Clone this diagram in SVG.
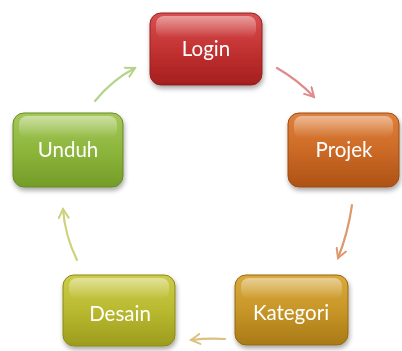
<svg xmlns="http://www.w3.org/2000/svg" width="402" height="351" viewBox="0 0 402 351">
<defs>
<linearGradient id="gRed" x1="0" y1="0" x2="0" y2="1"><stop offset="0" stop-color="#d95050"/><stop offset="0.5" stop-color="#c33232"/><stop offset="1" stop-color="#a51e1e"/></linearGradient>
<linearGradient id="gOrange" x1="0" y1="0" x2="0" y2="1"><stop offset="0" stop-color="#e0813c"/><stop offset="0.5" stop-color="#cc6a26"/><stop offset="1" stop-color="#ad5216"/></linearGradient>
<linearGradient id="gGreen" x1="0" y1="0" x2="0" y2="1"><stop offset="0" stop-color="#a5c85a"/><stop offset="0.5" stop-color="#8db63c"/><stop offset="1" stop-color="#749c28"/></linearGradient>
<linearGradient id="gOlive" x1="0" y1="0" x2="0" y2="1"><stop offset="0" stop-color="#cccc4a"/><stop offset="0.5" stop-color="#b9b930"/><stop offset="1" stop-color="#9c9c1e"/></linearGradient>
<linearGradient id="gGold" x1="0" y1="0" x2="0" y2="1"><stop offset="0" stop-color="#d9aa3e"/><stop offset="0.5" stop-color="#c89628"/><stop offset="1" stop-color="#a87a16"/></linearGradient>
<linearGradient id="gShine" x1="0" y1="0" x2="0" y2="1"><stop offset="0" stop-color="#fff" stop-opacity="0.45"/><stop offset="1" stop-color="#fff" stop-opacity="0"/></linearGradient>
<filter id="shadow" x="-20%" y="-20%" width="140%" height="150%"><feGaussianBlur in="SourceAlpha" stdDeviation="2.5"/><feOffset dx="1" dy="3"/><feComponentTransfer><feFuncA type="linear" slope="0.35"/></feComponentTransfer><feMerge><feMergeNode/><feMergeNode in="SourceGraphic"/></feMerge></filter>
<marker id="aRed" viewBox="0 0 12 12" refX="10" refY="6" markerWidth="12" markerHeight="12" markerUnits="userSpaceOnUse" orient="auto"><path d="M1,1 L10,6 L1,11" fill="none" stroke="#e08a8a" stroke-width="2" stroke-linecap="round"/></marker>
<marker id="aOrange" viewBox="0 0 12 12" refX="10" refY="6" markerWidth="12" markerHeight="12" markerUnits="userSpaceOnUse" orient="auto"><path d="M1,1 L10,6 L1,11" fill="none" stroke="#dc9a6e" stroke-width="2" stroke-linecap="round"/></marker>
<marker id="aGold" viewBox="0 0 12 12" refX="10" refY="6" markerWidth="12" markerHeight="12" markerUnits="userSpaceOnUse" orient="auto"><path d="M1,1 L10,6 L1,11" fill="none" stroke="#dcc07e" stroke-width="2" stroke-linecap="round"/></marker>
<marker id="aOlive" viewBox="0 0 12 12" refX="10" refY="6" markerWidth="12" markerHeight="12" markerUnits="userSpaceOnUse" orient="auto"><path d="M1,1 L10,6 L1,11" fill="none" stroke="#cfd27a" stroke-width="2" stroke-linecap="round"/></marker>
<marker id="aGreen" viewBox="0 0 12 12" refX="10" refY="6" markerWidth="12" markerHeight="12" markerUnits="userSpaceOnUse" orient="auto"><path d="M1,1 L10,6 L1,11" fill="none" stroke="#b5d38a" stroke-width="2" stroke-linecap="round"/></marker>
</defs>
<style>
.lbl{font-family:Lato,"Liberation Sans",sans-serif;font-size:20.5px;fill:#ffffff;text-anchor:middle;dominant-baseline:central}
.shine{fill:url(#gShine)}
.conn{fill:none;stroke-width:2.2;stroke-linecap:round}
</style>
<rect width="402" height="351" fill="#ffffff"/>
<g id="connectors">
<path class="conn" d="M277,68 Q298,80 314,97" stroke="#e08a8a" marker-end="url(#aRed)"/>
<path class="conn" d="M352,205 Q348,233 338,258" stroke="#dc9a6e" marker-end="url(#aOrange)"/>
<path class="conn" d="M225,339 Q208,338 191,340" stroke="#dcc07e" marker-end="url(#aGold)"/>
<path class="conn" d="M77,260 Q65,236 63,209" stroke="#cfd27a" marker-end="url(#aOlive)"/>
<path class="conn" d="M95,101 Q112,80 135,68" stroke="#b5d38a" marker-end="url(#aGreen)"/>
</g>
<g id="login" filter="url(#shadow)">
<rect x="150" y="13" width="112" height="72" rx="11" fill="url(#gRed)" stroke="#922020" stroke-width="1"/>
<rect x="156" y="16" width="100" height="22" rx="8" class="shine"/>
<text class="lbl" x="206" y="48">Login</text>
</g>
<g id="projek" filter="url(#shadow)">
<rect x="288" y="113" width="111" height="74" rx="11" fill="url(#gOrange)" stroke="#9a4a14" stroke-width="1"/>
<rect x="294" y="116" width="99" height="22" rx="8" class="shine"/>
<text class="lbl" x="344" y="149">Projek</text>
</g>
<g id="kategori" filter="url(#shadow)">
<rect x="235" y="275" width="113" height="70" rx="11" fill="url(#gGold)" stroke="#94680e" stroke-width="1"/>
<rect x="241" y="278" width="101" height="21" rx="8" class="shine"/>
<text class="lbl" x="291" y="312">Kategori</text>
</g>
<g id="desain" filter="url(#shadow)">
<rect x="63" y="275" width="112" height="71" rx="11" fill="url(#gOlive)" stroke="#8a8a14" stroke-width="1"/>
<rect x="69" y="278" width="100" height="21" rx="8" class="shine"/>
<text class="lbl" x="120" y="313">Desain</text>
</g>
<g id="unduh" filter="url(#shadow)">
<rect x="13" y="113" width="110" height="74" rx="11" fill="url(#gGreen)" stroke="#648a22" stroke-width="1"/>
<rect x="19" y="116" width="98" height="22" rx="8" class="shine"/>
<text class="lbl" x="68" y="149">Unduh</text>
</g>
</svg>
